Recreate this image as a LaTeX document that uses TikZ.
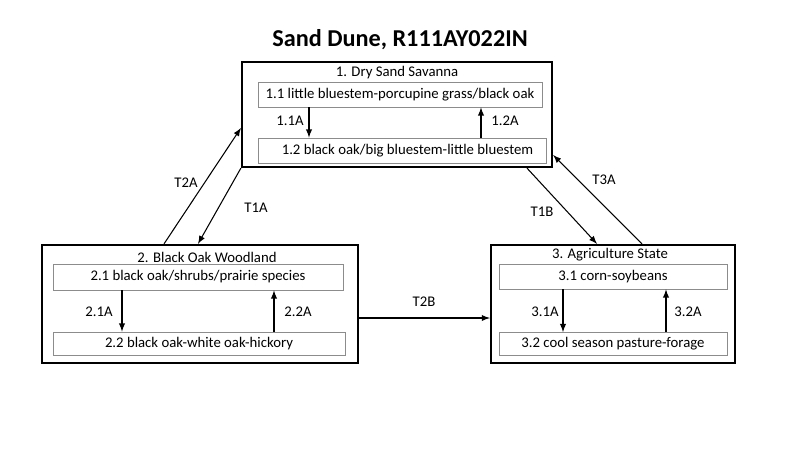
\documentclass[tikz,border=0pt]{standalone}
\usepackage{fontspec}
\setmainfont{Carlito}
\usetikzlibrary{calc,arrows}

\begin{document}
\begin{tikzpicture}[x=0.02cm, y=-0.02cm,
    statebox/.style={draw, line width=1.3pt, minimum width=#1, inner sep=0pt},
    phasebox/.style={draw=black!45, line width=0.5pt, fill=white, minimum width=#1, inner sep=0pt},
    trans/.style={-latex, line width=0.6pt},
    lbl/.style={font=\fontsize{8.4}{9.5}\selectfont, inner sep=1pt}]
    \useasboundingbox (0,0) rectangle (800,450);

    % Title
    \node[font=\fontsize{13.8}{16}\selectfont\bfseries] (title) at (400,40) {Sand Dune, R111AY022IN};

    % State boxes
    \node[statebox=6.2cm, minimum height=2.1cm] (b1) at (397,114.5) {};
    \node[statebox=6.32cm, minimum height=2.36cm] (b2) at (200,304) {};
    \node[statebox=4.88cm, minimum height=2.36cm] (b3) at (613,304) {};

    % State names
    \node[lbl] (n1) at (397,73) {1. Dry Sand Savanna};
    \node[lbl] (n2) at (207,257) {2. Black Oak Woodland};
    \node[lbl] (n3) at (610,255) {3. Agriculture State};

    % Community phases
    \node[phasebox=5.68cm, minimum height=0.5cm, lbl] (p11) at (400,94.5) {1.1 little bluestem-porcupine grass/black oak};
    \node[phasebox=5.76cm, minimum height=0.5cm, lbl] (p12) at (402,150.5) {\hspace{0.22cm}1.2 black oak/big bluestem-little bluestem};
    \node[phasebox=5.8cm, minimum height=0.52cm, lbl] (p21) at (198,277) {2.1 black oak/shrubs/prairie species\hspace{0.52cm}};
    \node[phasebox=5.84cm, minimum height=0.46cm, lbl] (p22) at (199,343.5) {2.2 black oak-white oak-hickory\hspace{0.48cm}};
    \node[phasebox=4.56cm, minimum height=0.5cm, lbl] (p31) at (613,276.5) {3.1 corn-soybeans};
    \node[phasebox=4.56cm, minimum height=0.46cm, lbl] (p32) at (613,344) {3.2 cool season pasture-forage};

    % Pathways within states
    \draw[trans] (p11.south -| 309,0) -- (p12.north -| 309,0);
    \draw[trans] (p12.north -| 481,0) -- (p11.south -| 481,0);
    \draw[trans] (p21.south -| 122,0) -- (p22.north -| 122,0);
    \draw[trans] (p22.north -| 274,0) -- (p21.south -| 274,0);
    \draw[trans] (p31.south -| 563,0) -- (p32.north -| 563,0);
    \draw[trans] (p32.north -| 666,0) -- (p31.south -| 666,0);

    \foreach \lab/\x/\y in {1.1A/290/121, 1.2A/505/121, 2.1A/99/312, 2.2A/298/312, 3.1A/545/312, 3.2A/688/312}
      \node[lbl] (l\lab) at (\x,\y) {\lab};

    % Transitions between states
    \draw[trans] (b2.north -| 164,0) -- (b1.west |- 0,128);
    \draw[trans] (b1.south west) -- (b2.north -| 198,0);
    \draw[trans] (b1.south -| 527,0) -- (b3.north -| 597,0);
    \draw[trans] (b3.north -| 642,0) -- (b1.east |- 0,155);
    \draw[trans] (b2.east |- 0,318) -- (b3.west |- 0,318);

    \foreach \lab/\x/\y in {T2A/186/183, T1A/256/208, T1B/542/212, T3A/604/180, T2B/424/302}
      \node[lbl] (\lab) at (\x,\y) {\lab};
\end{tikzpicture}
\end{document}
